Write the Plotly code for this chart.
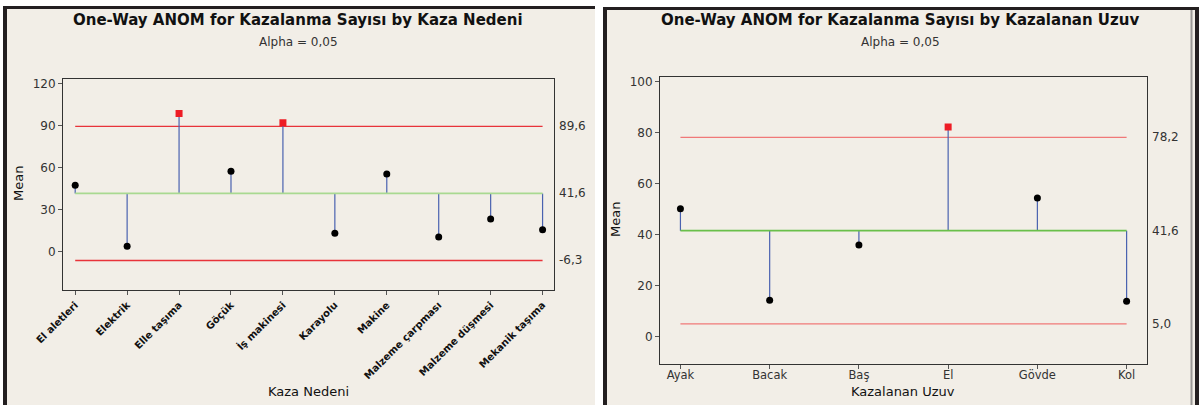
import plotly.graph_objects as go

W, H = 1200, 405

# ---------------- data ----------------
causes = ["El aletleri", "Elektrik", "Elle taşıma", "Göçük", "İş makinesi",
          "Karayolu", "Makine", "Malzeme çarpması", "Malzeme düşmesi", "Mekanik taşıma"]
cause_means = [47.4, 3.8, 98.8, 57.4, 92.1, 13.1, 55.5, 10.5, 23.4, 15.7]
cause_center = 41.6
cause_udl = 89.6
cause_ldl = -6.3
cause_yticks = [0, 30, 60, 90, 120]

limbs = ["Ayak", "Bacak", "Baş", "El", "Gövde", "Kol"]
limb_means = [50.2, 14.3, 36.0, 82.3, 54.4, 13.9]
limb_center = 41.6
limb_udl = 78.2
limb_ldl = 5.0
limb_yticks = [0, 20, 40, 60, 80, 100]

title_left = "One-Way ANOM for Kazalanma Sayısı by Kaza Nedeni"
title_right = "One-Way ANOM for Kazalanma Sayısı by Kazalanan Uzuv"
subtitle = "Alpha = 0,05"

# ---------------- helpers ----------------
def px(x):
    return x / W

def py(y):
    return 1 - y / H

BG = "#F2EEE7"
DARK = "#231F20"
FONT = "DejaVu Sans"

fig = go.Figure()

def add_chart(cats, means, center, udl, ldl, xa, ya, red_col, green_col):
    n = len(cats)
    xs = list(range(n))
    for lim in (udl, ldl):
        fig.add_trace(go.Scatter(x=[xs[0], xs[-1]], y=[lim, lim], mode="lines",
                                 line=dict(color=red_col, width=1.3), xaxis=xa, yaxis=ya,
                                 hoverinfo="skip", showlegend=False))
    sx, sy = [], []
    for i, m in zip(xs, means):
        sx += [i, i, None]
        sy += [center, m, None]
    fig.add_trace(go.Scatter(x=sx, y=sy, mode="lines",
                             line=dict(color="#4A62B0", width=1.2), xaxis=xa, yaxis=ya,
                             hoverinfo="skip", showlegend=False))
    fig.add_trace(go.Scatter(x=[xs[0], xs[-1]], y=[center, center], mode="lines",
                             line=dict(color=green_col, width=1.7), xaxis=xa, yaxis=ya,
                             hoverinfo="skip", showlegend=False))
    inside = [(i, m) for i, m in zip(xs, means) if ldl <= m <= udl]
    outside = [(i, m) for i, m in zip(xs, means) if not (ldl <= m <= udl)]
    if inside:
        fig.add_trace(go.Scatter(x=[p[0] for p in inside], y=[p[1] for p in inside],
                                 mode="markers", marker=dict(color="black", size=7, symbol="circle"),
                                 xaxis=xa, yaxis=ya, showlegend=False))
    if outside:
        fig.add_trace(go.Scatter(x=[p[0] for p in outside], y=[p[1] for p in outside],
                                 mode="markers", marker=dict(color="#EE1C25", size=7, symbol="square"),
                                 xaxis=xa, yaxis=ya, showlegend=False))
    for v in (udl, center, ldl):
        fig.add_annotation(x=1.0, y=v, xref=f"{xa} domain", yref=ya, xanchor="left", xshift=3,
                           text=f"{v:.1f}".replace(".", ","), showarrow=False,
                           font=dict(family=FONT, size=12, color="#333333"))

add_chart(causes, cause_means, cause_center, cause_udl, cause_ldl, "x", "y", "#E8333A", "#A9D991")
add_chart(limbs, limb_means, limb_center, limb_udl, limb_ldl, "x2", "y2", "#F07878", "#6ABF4B")

def axis(**kw):
    d = dict(showline=True, linecolor="#333333", linewidth=1, mirror=True,
             ticks="outside", ticklen=4, tickcolor="#555555", showgrid=False,
             zeroline=False, automargin=False,
             tickfont=dict(family=FONT, size=12, color="#333333"))
    d.update(kw)
    return d

fig.update_layout(
    template="none",
    width=W, height=H, margin=dict(l=0, r=0, t=0, b=0, pad=0, autoexpand=False),
    paper_bgcolor="white", plot_bgcolor="white", showlegend=False,
    xaxis=axis(domain=[px(63), px(554)], range=[-0.235, len(causes) - 1 + 0.22],
               tickmode="array", tickvals=list(range(len(causes))), ticktext=causes,
               tickangle=-45, anchor="y",
               tickfont=dict(family=FONT, size=10, color="#111111", weight="bold")),
    yaxis=axis(domain=[py(290.3), py(79)], range=[-27.6, 123.4], tickmode="array",
               tickvals=cause_yticks, anchor="x"),
    xaxis2=axis(domain=[px(660), px(1146.6)], range=[-0.229, len(limbs) - 1 + 0.224],
                tickmode="array", tickvals=list(range(len(limbs))), ticktext=limbs,
                anchor="y2", ticklabelstandoff=-4,
                tickfont=dict(family=FONT, size=11.5, color="#333333")),
    yaxis2=axis(domain=[py(363.7), py(76.7)], range=[-10.6, 102], tickmode="array",
                tickvals=limb_yticks, anchor="x2"),
)

def pline(x0, y0, x1, y1, color, width):
    return dict(type="line", xref="paper", yref="paper", x0=px(x0), x1=px(x1),
                y0=py(y0), y1=py(y1), line=dict(color=color, width=width), layer="above")

shapes = [
    dict(type="rect", xref="paper", yref="paper", x0=px(4), x1=px(595), y0=py(405), y1=py(7),
         fillcolor=BG, line_width=0, layer="below"),
    dict(type="rect", xref="paper", yref="paper", x0=px(603), x1=px(1195), y0=py(405), y1=py(8),
         fillcolor=BG, line_width=0, layer="below"),
    pline(5, 405, 5, 6, DARK, 4),
    pline(3, 7.5, 595, 7.5, DARK, 3),
    pline(605, 405, 605, 7, DARK, 4),
    pline(603, 8.5, 1199, 8.5, DARK, 3),
    pline(1197, 405, 1197, 7, DARK, 4),
    pline(1191.5, 405, 1191.5, 10, "#9A9896", 2),
]
fig.update_layout(shapes=shapes)

def text_ann(x, y, text, size, bold=False, angle=0, color="#111111"):
    fig.add_annotation(x=px(x), y=py(y), xref="paper", yref="paper", showarrow=False,
                       text=f"<b>{text}</b>" if bold else text, textangle=angle,
                       xanchor="center", yanchor="middle",
                       font=dict(family=FONT, size=size, color=color))

text_ann(298, 20, title_left, 15, bold=True)
text_ann(298, 42, subtitle, 12, color="#333333")
text_ann(900, 20, title_right, 15, bold=True)
text_ann(900, 42, subtitle, 12, color="#333333")
text_ann(18, 184, "Mean", 13, angle=-90)
text_ann(615, 220, "Mean", 13, angle=-90)
text_ann(308, 391, "Kaza Nedeni", 13)
text_ann(903, 391, "Kazalanan Uzuv", 13)

fig.write_html("out.html", config={"displayModeBar": False},
               post_script="document.body.style.margin='0px';")
